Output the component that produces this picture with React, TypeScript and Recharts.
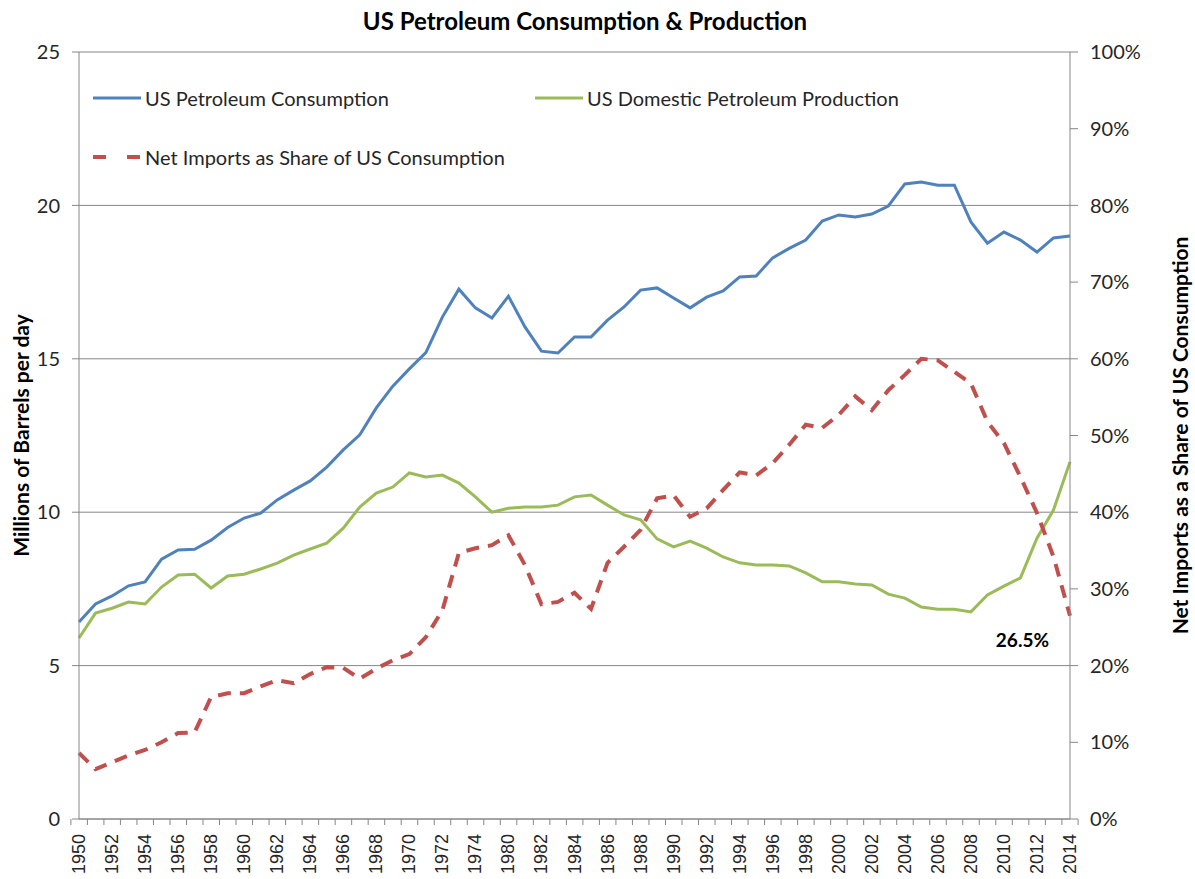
import React from 'react';
import { ComposedChart, Line, XAxis, YAxis, CartesianGrid, Legend, LabelList } from 'recharts';

// 1976-1979 are not in the source sheet, so 1975 is followed by 1980
const years = [
  '1950', '1951', '1952', '1953', '1954', '1955', '1956', '1957', '1958', '1959',
  '1960', '1961', '1962', '1963', '1964', '1965', '1966', '1967', '1968', '1969',
  '1970', '1971', '1972', '1973', '1974', '1975', '1980', '1981', '1982', '1983',
  '1984', '1985', '1986', '1987', '1988', '1989', '1990', '1991', '1992', '1993',
  '1994', '1995', '1996', '1997', '1998', '1999', '2000', '2001', '2002', '2003',
  '2004', '2005', '2006', '2007', '2008', '2009', '2010', '2011', '2012', '2013',
  '2014',
];

// million barrels per day
const consumption = [
  6.42, 7.01, 7.27, 7.6, 7.73, 8.47, 8.77, 8.79, 9.09, 9.5,
  9.81, 9.97, 10.4, 10.72, 11.02, 11.47, 12.03, 12.52, 13.4, 14.11,
  14.67, 15.2, 16.36, 17.27, 16.66, 16.33, 17.04, 16.04, 15.25, 15.19,
  15.71, 15.71, 16.26, 16.69, 17.24, 17.31, 16.98, 16.66, 17.01, 17.21,
  17.67, 17.7, 18.29, 18.6, 18.87, 19.49, 19.69, 19.62, 19.72, 19.98,
  20.7, 20.76, 20.66, 20.66, 19.46, 18.77, 19.13, 18.87, 18.48, 18.94,
  19.0,
];

const production = [
  5.9, 6.71, 6.87, 7.07, 7.01, 7.56, 7.95, 7.98, 7.53, 7.92,
  7.98, 8.15, 8.34, 8.6, 8.8, 8.99, 9.48, 10.17, 10.62, 10.82,
  11.28, 11.15, 11.21, 10.95, 10.5, 10.0, 10.13, 10.17, 10.17, 10.23,
  10.5, 10.56, 10.23, 9.91, 9.75, 9.13, 8.87, 9.06, 8.83, 8.54,
  8.35, 8.28, 8.28, 8.25, 8.02, 7.73, 7.73, 7.66, 7.63, 7.33,
  7.2, 6.91, 6.84, 6.84, 6.75, 7.3, 7.59, 7.86, 9.15, 10.07,
  11.64,
];

// percent of consumption
const importShare = [
  8.6, 6.5, 7.4, 8.3, 9.0, 10.0, 11.2, 11.3, 15.9, 16.4,
  16.4, 17.3, 18.1, 17.7, 18.9, 19.8, 19.7, 18.3, 19.6, 20.7,
  21.5, 23.7, 27.2, 34.7, 35.3, 35.7, 37.0, 33.1, 28.0, 28.3,
  29.5, 27.4, 33.4, 35.5, 37.7, 41.8, 42.2, 39.4, 40.5, 42.9,
  45.2, 44.8, 46.4, 48.8, 51.4, 51.0, 52.7, 55.1, 53.3, 55.9,
  57.9, 60.0, 59.8, 58.3, 56.8, 51.8, 49.0, 44.6, 39.9, 34.2,
  26.5,
];

const leftTicks = [0, 5, 10, 15, 20, 25];
const rightTicks = [0, 10, 20, 30, 40, 50, 60, 70, 80, 90, 100];

const data = years.map((year, i) => ({
  year,
  consumption: consumption[i],
  production: production[i],
  share: importShare[i],
}));

const FONT = 'Lato, "Open Sans", sans-serif';
const AXIS_GREY = '#868686';
const TEXT = '#262626';
const CHART_H = 879;
const X_AXIS_H = 60;
const AXIS_Y = CHART_H - X_AXIS_H;

const YearTick = (props: any) => {
  const { x, index, payload } = props;
  const half = payload && payload.offset ? payload.offset : 991 / 61 / 2;
  const ty = AXIS_Y + 15;
  return (
    <g>
      <line x1={x - half} x2={x - half} y1={AXIS_Y} y2={AXIS_Y + 6} stroke={AXIS_GREY} />
      {index === years.length - 1 && (
        <line x1={x + half} x2={x + half} y1={AXIS_Y} y2={AXIS_Y + 6} stroke={AXIS_GREY} />
      )}
      {index % 2 === 0 && (
        <text
          x={x}
          y={ty}
          transform={`rotate(-90, ${x}, ${ty})`}
          textAnchor="end"
          dominantBaseline="central"
          fontFamily='"Liberation Sans", Arial, sans-serif'
          fontSize={18}
          fill={TEXT}
        >
          {payload.value}
        </text>
      )}
    </g>
  );
};

const AxisTitle = ({ viewBox, px, title }: any) => {
  const cy = viewBox.y + viewBox.height / 2;
  return (
    <text
      x={px}
      y={cy}
      transform={`rotate(-90, ${px}, ${cy})`}
      textAnchor="middle"
      dominantBaseline="central"
      fontFamily={FONT}
      fontWeight="bold"
      fontSize={21}
      fill="#000"
    >
      {title}
    </text>
  );
};

const legendSpots: Record<string, { left: number; top: number }> = {
  'US Petroleum Consumption': { left: 92, top: 98 },
  'US Domestic Petroleum Production': { left: 534, top: 98 },
  'Net Imports as Share of US Consumption': { left: 92, top: 157 },
};

const renderLegend = (props: any) => {
  const { payload } = props;
  return (
    <div style={{ position: 'relative', width: 1000, height: 130 }}>
      {(payload || []).map((entry: any) => {
        const spot = legendSpots[entry.value] || { left: 92, top: 98 };
        const dashed = entry.payload && entry.payload.strokeDasharray;
        return (
          <div
            key={entry.value}
            style={{
              position: 'absolute',
              left: spot.left - 61,
              top: spot.top - 52 - 12,
              height: 24,
              display: 'flex',
              alignItems: 'center',
              whiteSpace: 'nowrap',
            }}
          >
            <svg width={53} height={24}>
              <line
                x1={1}
                x2={49}
                y1={12}
                y2={12}
                stroke={entry.color}
                strokeWidth={dashed ? 4 : 3}
                strokeDasharray={dashed ? '13 21' : undefined}
              />
            </svg>
            <span style={{ fontFamily: FONT, fontSize: 20, color: TEXT }}>{entry.value}</span>
          </div>
        );
      })}
    </div>
  );
};

const ShareLabel = (props: any) => {
  const { x, y, index, value } = props;
  if (index !== years.length - 1) return null;
  return (
    <text
      x={x - 21}
      y={y + 24}
      textAnchor="end"
      dominantBaseline="central"
      fontFamily={FONT}
      fontWeight="bold"
      fontSize={19}
      fill="#000"
    >
      {`${value}%`}
    </text>
  );
};

export default function App() {
  return (
    <div style={{ position: 'absolute', left: 0, top: 0, width: 1195, height: CHART_H, background: '#fff' }}>
      <div
        style={{
          position: 'absolute',
          left: 0,
          top: 6,
          width: 1170,
          textAlign: 'center',
          fontFamily: FONT,
          fontWeight: 'bold',
          fontSize: 24,
          color: '#000',
        }}
      >
        US Petroleum Consumption &amp; Production
      </div>
      <ComposedChart
        width={1195}
        height={CHART_H}
        data={data}
        margin={{ top: 52, right: 0, bottom: 0, left: 0 }}
      >
        <CartesianGrid yAxisId="left" vertical={false} stroke={AXIS_GREY} />
        <XAxis
          dataKey="year"
          interval={0}
          height={X_AXIS_H}
          axisLine={{ stroke: AXIS_GREY }}
          tickLine={false}
          tick={<YearTick />}
        />
        <YAxis
          yAxisId="left"
          width={79}
          domain={[0, 25]}
          ticks={leftTicks}
          axisLine={{ stroke: AXIS_GREY }}
          tickLine={{ stroke: AXIS_GREY }}
          tickSize={7}
          tickMargin={12}
          tick={{ fontFamily: FONT, fontSize: 20, fill: TEXT }}
          label={<AxisTitle px={20} title="Millions of Barrels per day" />}
        />
        <YAxis
          yAxisId="right"
          orientation="right"
          width={125}
          domain={[0, 100]}
          ticks={rightTicks}
          tickFormatter={(v: number) => `${v}%`}
          axisLine={{ stroke: AXIS_GREY }}
          tickLine={{ stroke: AXIS_GREY }}
          tickSize={8}
          tickMargin={12}
          tick={{ fontFamily: FONT, fontSize: 20, fill: TEXT }}
          label={<AxisTitle px={1179} title="Net Imports as a Share of US Consumption" />}
        />
        <Legend
          layout="vertical"
          verticalAlign="middle"
          align="center"
          content={renderLegend}
          wrapperStyle={{ top: 52, left: 61, width: 1000, height: 130 }}
        />
        <Line
          yAxisId="left"
          type="linear"
          dataKey="consumption"
          name="US Petroleum Consumption"
          stroke="#4F81BD"
          strokeWidth={3}
          dot={false}
          isAnimationActive={false}
        />
        <Line
          yAxisId="left"
          type="linear"
          dataKey="production"
          name="US Domestic Petroleum Production"
          stroke="#9BBB59"
          strokeWidth={3}
          dot={false}
          isAnimationActive={false}
        />
        <Line
          yAxisId="right"
          type="linear"
          dataKey="share"
          name="Net Imports as Share of US Consumption"
          stroke="#C0504D"
          strokeWidth={4}
          strokeDasharray="13 9"
          dot={false}
          isAnimationActive={false}
        >
          <LabelList dataKey="share" content={<ShareLabel />} />
        </Line>
      </ComposedChart>
    </div>
  );
}
